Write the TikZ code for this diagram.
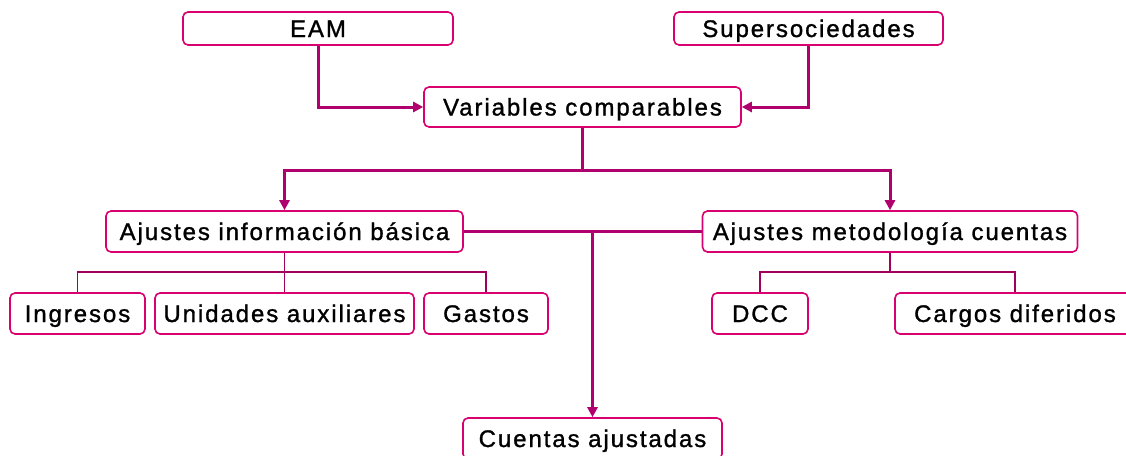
\documentclass[tikz,border=0pt]{standalone}
\usepackage{fontspec}
\setmainfont[LetterSpace=8,FakeBold=1.2]{Liberation Sans}
\usetikzlibrary{arrows.meta}
\definecolor{boxpink}{HTML}{D9006F}
\definecolor{linemag}{HTML}{B0006E}
\definecolor{thinmag}{HTML}{A0005A}
\tikzset{
  box/.style={draw=boxpink, line width=1.6pt, rounded corners=5pt, fill=white, inner sep=0pt,
    font=\fontsize{24}{28}\selectfont, text=black, text height=17pt, text depth=0pt},
  conn/.style={draw=linemag, line width=3pt},
  arr/.style={conn, -{Triangle[length=10pt,width=10pt]}},
  thin/.style={draw=thinmag, line width=1.2pt}
}
\begin{document}
\begin{tikzpicture}[x=1pt,y=-1pt]
\useasboundingbox (0,0) rectangle (1126,455);
\node[box, minimum width=270pt, minimum height=33pt] (eam) at (318,28.5) {EAM};
\node[box, minimum width=269pt, minimum height=33pt] (sup) at (808.5,28.5) {Supersociedades};
\node[box, minimum width=317pt, minimum height=40pt] (var) at (582.5,107) {Variables comparables};
\node[box, minimum width=357pt, minimum height=41pt] (aib) at (284.5,231.5) {Ajustes información básica};
\node[box, minimum width=375pt, minimum height=41pt] (amc) at (890,231.5) {Ajustes metodología cuentas};
\node[box, minimum width=135pt, minimum height=41pt] (ing) at (77.5,313.5) {Ingresos};
\node[box, minimum width=259pt, minimum height=41pt] (uni) at (284.5,313.5) {Unidades auxiliares};
\node[box, minimum width=124pt, minimum height=41pt] (gas) at (486,313.5) {Gastos};
\node[box, minimum width=96pt, minimum height=41pt] (dcc) at (760,313.5) {DCC};
\node[box, minimum width=240pt, minimum height=41pt] (car) at (1015,313.5) {Cargos diferidos};
\node[box, minimum width=259pt, minimum height=41pt] (cue) at (592.5,438.5) {Cuentas ajustadas};
% top arrows
\draw[arr] (eam.south) |- (var.west);
\draw[arr] (sup.south) |- (var.east);
% split
\coordinate (j1) at (582.5,170);
\draw[conn] (var.south) -- (j1);
\draw[arr] (j1) -| (aib.north);
\draw[arr] (j1) -| (amc.north);
% middle
\draw[conn] (aib.east) -- (amc.west);
\draw[arr] (aib.east -| cue.north) -- (cue.north);
% thin trees
\coordinate (j2) at (284.5,272);
\draw[thin] (aib.south) -- (j2);
\draw[thin] (j2) -| (ing.north);
\draw[thin] (j2) -- (uni.north);
\draw[thin] (j2) -| (gas.north);
\coordinate (j3) at (890,272);
\draw[thin] (amc.south) -- (j3);
\draw[thin] (j3) -| (dcc.north);
\draw[thin] (j3) -| (car.north);
\end{tikzpicture}
\end{document}
